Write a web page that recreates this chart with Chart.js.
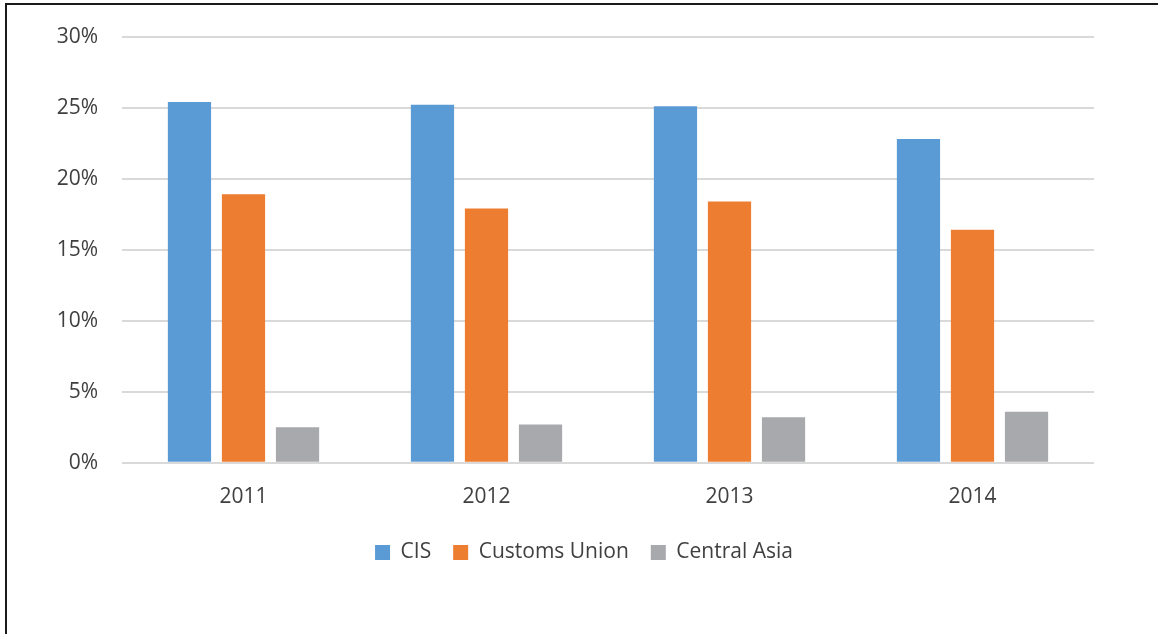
<!DOCTYPE html>
<html>
<head>
<meta charset="utf-8">
<script src="https://cdn.jsdelivr.net/npm/chart.js@4/dist/chart.umd.min.js"></script>
<style>
  html, body { margin: 0; padding: 0; background: #fff; }
  #wrap { position: relative; width: 1158px; height: 634px; overflow: hidden; }
  #frame { position: absolute; left: 5px; top: 3px; right: -10px; bottom: -10px;
           border-left: 2px solid #1a1a1a; border-top: 2px solid #1a1a1a; }
  #chart { position: absolute; left: 0; top: 0; }
</style>
</head>
<body>
<div id="wrap">
  <div id="frame"></div>
  <canvas id="chart" width="1158" height="634"></canvas>
</div>
<script>
// ── Data (share of trade, %) ──
const years        = ['2011', '2012', '2013', '2014'];
const cis          = [25.4, 25.2, 25.1, 22.8];
const customsUnion = [18.9, 17.9, 18.4, 16.4];
const centralAsia  = [2.5, 2.7, 3.2, 3.6];
const yTicks       = [0, 5, 10, 15, 20, 25, 30];

const textColor = '#404040';
const font      = { family: "'Open Sans', sans-serif", size: 21 };

const ds = (label, data, color) => ({
  label, data,
  backgroundColor: color,
  borderWidth: 0,
  categoryPercentage: 0.667,
  barPercentage: 0.8,
});

// nudge the legend a little off the layout's default spot
const legendShift = {
  id: 'legendShift',
  afterLayout(chart) {
    const lg = chart.legend;
    lg.left += 11;  lg.right += 11;
    lg.top  -= 12;  lg.bottom -= 12;
  }
};

new Chart(document.getElementById('chart').getContext('2d'), {
  type: 'bar',
  data: {
    labels: years,
    datasets: [
      ds('CIS', cis, '#5b9bd5'),
      ds('Customs Union', customsUnion, '#ed7d31'),
      ds('Central Asia', centralAsia, '#a8a9ad'),
    ]
  },
  plugins: [legendShift],
  options: {
    responsive: false,
    animation: false,
    devicePixelRatio: 1,
    layout: { padding: { left: 52, right: 64, top: 25, bottom: 49 } },
    plugins: {
      tooltip: { enabled: false },
      legend: {
        position: 'bottom',
        labels: { color: textColor, font, boxWidth: 15, boxHeight: 15, padding: 22 }
      }
    },
    scales: {
      x: {
        grid: { display: false, drawTicks: false },
        border: { display: false },
        ticks: { color: textColor, font, padding: 22 }
      },
      y: {
        min: yTicks[0],
        max: yTicks[yTicks.length - 1],
        afterFit(scale) { scale.width = 70; },
        afterBuildTicks(scale) { scale.ticks = yTicks.map(v => ({ value: v })); },
        grid: { color: '#d9d9d9', lineWidth: 2, drawTicks: false },
        border: { display: false },
        ticks: { color: textColor, font, padding: 24, callback: v => v + '%' }
      }
    }
  }
});
</script>
</body>
</html>
